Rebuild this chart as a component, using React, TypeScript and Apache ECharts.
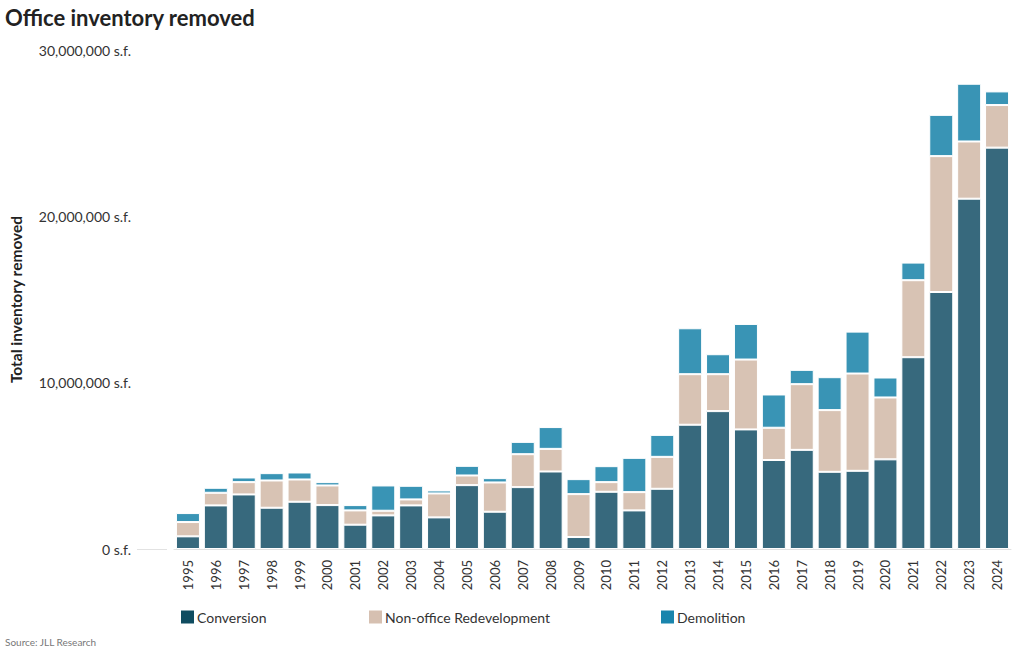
import React, { useEffect, useRef } from "react";
import * as echarts from "echarts";

const years = [
  "1995", "1996", "1997", "1998", "1999", "2000", "2001", "2002", "2003", "2004",
  "2005", "2006", "2007", "2008", "2009", "2010", "2011", "2012", "2013", "2014",
  "2015", "2016", "2017", "2018", "2019", "2020", "2021", "2022", "2023", "2024",
];

// values in millions of s.f.
const conversion = [
  0.76, 2.62, 3.28, 2.48, 2.84, 2.64, 1.46, 2.02, 2.62, 1.9,
  3.84, 2.24, 3.72, 4.66, 0.72, 3.44, 2.32, 3.62, 7.47, 8.29,
  7.19, 5.35, 5.96, 4.64, 4.7, 5.39, 11.53, 15.45, 21.06, 24.13,
];
const redevelopment = [
  0.86, 0.76, 0.74, 1.64, 1.34, 1.18, 0.86, 0.28, 0.36, 1.44,
  0.58, 1.76, 1.98, 1.36, 2.58, 0.58, 1.1, 1.92, 3.04, 2.22,
  4.2, 1.94, 3.95, 3.71, 5.85, 3.72, 4.63, 8.17, 3.44, 2.56,
];
const demolition = [
  0.54, 0.3, 0.28, 0.44, 0.42, 0.2, 0.32, 1.52, 0.82, 0.18,
  0.58, 0.26, 0.74, 1.31, 0.9, 0.96, 2.06, 1.32, 2.76, 1.2,
  2.14, 2.0, 0.86, 1.98, 2.52, 1.2, 1.06, 2.48, 3.47, 0.82,
];

const yTicks = [0, 10, 20, 30];

const seriesNames = ["Conversion", "Non-office Redevelopment", "Demolition"];
const barColors = ["#37697d", "#d8c3b4", "#3994b5"];
const legendColors = ["#0f4c60", "#d6c0b1", "#1985ad"];
const legendLefts = [176, 364, 656];

const FONT = "Lato, 'Noto Sans', sans-serif";

export default function App() {
  const ref = useRef<HTMLDivElement>(null);

  useEffect(() => {
    if (!ref.current) return;
    const chart = echarts.init(ref.current, null, { renderer: "svg" });
    const data = [conversion, redevelopment, demolition];
    const fmt = (v: number) =>
      v === 0 ? "0 s.f." : (v * 1000000).toLocaleString("en-US") + " s.f.";

    chart.setOption({
      animation: false,
      backgroundColor: "#ffffff",
      textStyle: { fontFamily: FONT },
      title: [
        {
          text: "Office inventory removed",
          left: 0,
          top: 1,
          textStyle: { fontFamily: FONT, fontSize: 22, fontWeight: "bold", color: "#222" },
        },
        {
          text: "Source: JLL Research",
          left: 0,
          top: 632,
          textStyle: { fontFamily: FONT, fontSize: 10, fontWeight: "normal", color: "#777" },
        },
      ],
      legend: seriesNames.map((n, i) => ({
        left: legendLefts[i],
        top: 605,
        itemWidth: 13,
        itemHeight: 13,
        itemGap: 0,
        icon: "rect",
        textStyle: { fontFamily: FONT, fontSize: 14, color: "#333", padding: [0, 0, 0, -2] },
        data: [{ name: n, itemStyle: { color: legendColors[i], borderWidth: 0 } }],
      })),
      grid: { left: 167, right: 9, top: 50, bottom: 101, containLabel: false },
      xAxis: {
        type: "category",
        data: years,
        axisLine: { show: true, lineStyle: { color: "#e2e2e2", width: 1 } },
        axisTick: { show: false },
        axisLabel: {
          rotate: 90,
          fontFamily: FONT,
          fontSize: 13,
          color: "#333",
          margin: 11,
          interval: 0,
        },
      },
      yAxis: {
        type: "value",
        min: 0,
        max: 30,
        interval: 10,
        name: "Total inventory removed",
        nameLocation: "middle",
        nameGap: 150,
        nameTextStyle: { fontFamily: FONT, fontSize: 15.5, fontWeight: "bold", color: "#222" },
        axisLine: { show: false },
        axisTick: { show: false },
        splitLine: { show: false },
        axisLabel: {
          fontFamily: FONT,
          fontSize: 14,
          color: "#333",
          margin: 43,
          formatter: (v: number) => (yTicks.includes(v) ? fmt(v) : ""),
        },
      },
      graphic: [
        {
          type: "line",
          shape: { x1: 137, y1: 549.5, x2: 167, y2: 549.5 },
          style: { stroke: "#e2e2e2", lineWidth: 1 },
          silent: true,
        },
      ],
      series: seriesNames.map((n, i) => ({
        name: n,
        type: "bar",
        stack: "total",
        barWidth: 24,
        data: data[i],
        itemStyle: { color: barColors[i], borderColor: "#ffffff", borderWidth: 1 },
        emphasis: { disabled: true },
      })),
    });

    return () => chart.dispose();
  }, []);

  return <div ref={ref} style={{ width: 1020, height: 650, position: "absolute", left: 0, top: 0 }} />;
}
